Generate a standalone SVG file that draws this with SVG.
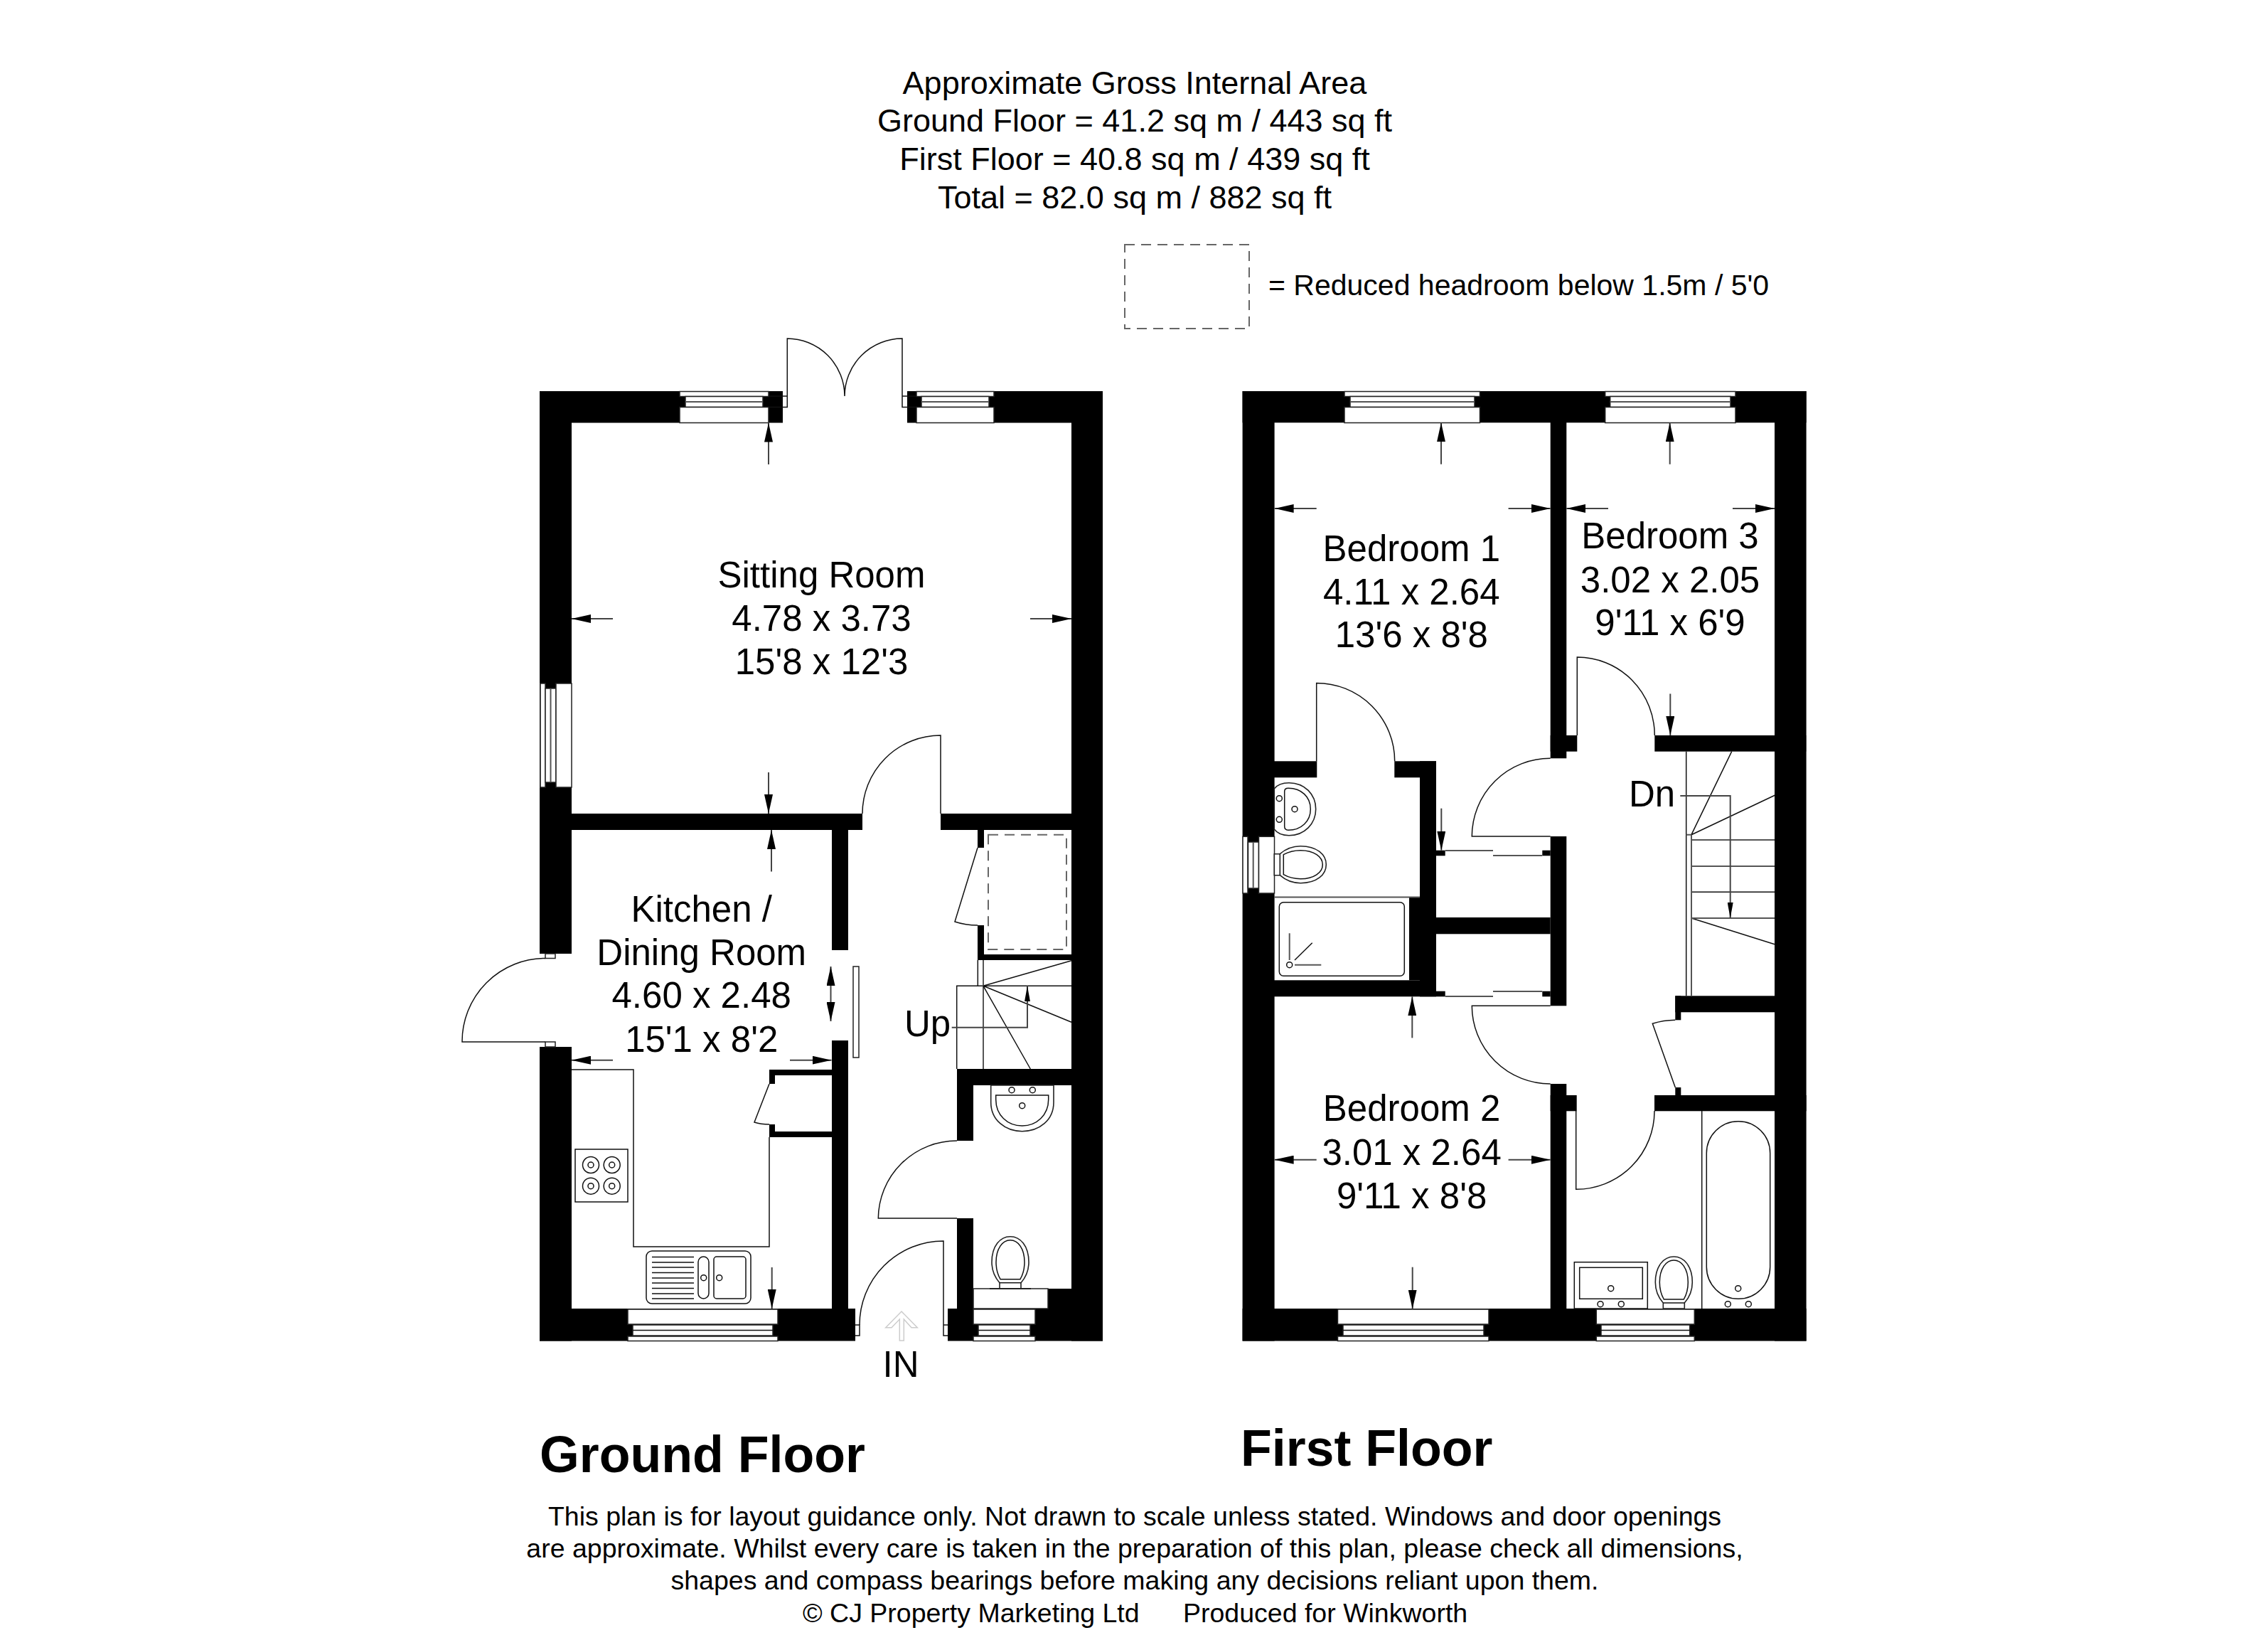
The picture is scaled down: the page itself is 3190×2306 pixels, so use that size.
<svg xmlns="http://www.w3.org/2000/svg" xmlns:xlink="http://www.w3.org/1999/xlink" width="3190" height="2306" viewBox="0 0 3190 2306">
<style>
text{font-family:"Liberation Sans",Arial,sans-serif;fill:#000}
.c{text-anchor:middle}
.room{font-size:51px}
.head{font-size:45px}
.leg{font-size:41px}
.foot{font-size:37.5px}
.title{font-size:71.7px;font-weight:bold}
.w{fill:#000}
.wn{fill:#fff;stroke:#222;stroke-width:1.5}
.l{fill:none;stroke:#111;stroke-width:1.5}
.g{fill:none;stroke:#555;stroke-width:2}
.a{stroke:#444;stroke-width:2;fill:none}
.dash{fill:none;stroke:#666;stroke-width:2;stroke-dasharray:14 9}
.fx{fill:#fff;stroke:#222;stroke-width:1.6}
</style>
<defs>
<marker id="ah" viewBox="0 0 27 12" refX="27" refY="6" markerWidth="27" markerHeight="12" markerUnits="userSpaceOnUse" orient="auto-start-reverse"><path d="M0,0L27,6L0,12Z" fill="#000"/></marker>
<marker id="sh" viewBox="0 0 22 8" refX="22" refY="4" markerWidth="22" markerHeight="8" markerUnits="userSpaceOnUse" orient="auto"><path d="M0,0L22,4L0,8Z" fill="#000"/></marker>
<g id="toilet">
<path class="fx" d="M-15,-8C-23,-17-26,-27-26,-37C-26,-60-14,-73,0,-73C14,-73,26,-60,26,-37C26,-27,23,-17,15,-8V0H-15Z"/>
<path class="l" d="M-15,-8H15"/>
<path class="l" d="M-14,-13C-18,-20-20,-29-20,-37C-20,-56-11,-68,0,-68C11,-68,20,-56,20,-37C20,-29,18,-20,14,-13Z"/>
</g>
</defs>
<rect width="3190" height="2306" fill="#fff"/>

<g id="heading">
<text class="head c" x="1596" y="132">Approximate Gross Internal Area</text>
<text class="head c" x="1596" y="185">Ground Floor = 41.2 sq m / 443 sq ft</text>
<text class="head c" x="1596" y="239">First Floor = 40.8 sq m / 439 sq ft</text>
<text class="head c" x="1596" y="293">Total = 82.0 sq m / 882 sq ft</text>
</g>
<g id="legend">
<rect class="dash" x="1582" y="344" width="175" height="118"/>
<text class="leg" x="1784" y="415">= Reduced headroom below 1.5m / 5'0</text>
</g>

<g id="ground-floor-walls" class="w">
<rect x="759" y="550" width="342" height="44.5"/>
<rect x="1276" y="550" width="275" height="44.5"/>
<rect x="759" y="550" width="45" height="791"/>
<rect x="759" y="1472" width="45" height="413.5"/>
<rect x="1507" y="550" width="44" height="1335.5"/>
<rect x="759" y="1144" width="454" height="23"/>
<rect x="1323" y="1144" width="228" height="23"/>
<rect x="1170" y="1167" width="23" height="169"/>
<rect x="1170" y="1463" width="23" height="377"/>
<rect x="1082" y="1504" width="88" height="8"/>
<rect x="1082" y="1504" width="8" height="20"/>
<rect x="1082" y="1581" width="8" height="18"/>
<rect x="1082" y="1591" width="88" height="8"/>
<rect x="759" y="1840" width="444" height="45.5"/>
<rect x="1333" y="1840" width="218" height="45.5"/>
<rect x="1346" y="1503" width="23" height="101"/>
<rect x="1346" y="1713" width="23" height="127"/>
<rect x="1346" y="1503" width="161" height="23"/>
<rect x="1375" y="1167" width="9" height="25"/>
<rect x="1375" y="1301" width="9" height="49"/>
<rect x="1375" y="1342" width="132" height="8"/>
<rect x="1474" y="1812" width="33" height="28"/>
</g>

<g id="ground-floor-windows">
<rect class="wn" x="956" y="550.5" width="125" height="7"/><rect class="wn" x="964" y="557.5" width="109" height="15"/><path class="g" d="M964,565H1073"/><rect class="wn" x="956" y="572.5" width="125" height="22"/>
<rect class="wn" x="1289" y="550.5" width="109" height="7"/><rect class="wn" x="1296" y="557.5" width="95" height="15"/><path class="g" d="M1296,565H1391"/><rect class="wn" x="1289" y="572.5" width="109" height="22"/>
<rect class="wn" x="760" y="961" width="7" height="146"/><rect class="wn" x="767" y="968" width="15" height="132"/><path class="g" d="M774.5,968V1100"/><rect class="wn" x="782" y="961" width="22" height="146"/>
<rect class="wn" x="883" y="1841" width="211" height="21"/><rect class="wn" x="890" y="1863" width="197" height="15"/><path class="l" d="M890,1870.5H1087"/><rect class="wn" x="883" y="1879" width="211" height="6.5"/>
<rect class="wn" x="1369" y="1812" width="105" height="28"/><rect class="wn" x="1369" y="1841" width="87" height="21"/><rect class="wn" x="1376" y="1863" width="73" height="15"/><path class="l" d="M1376,1870.5H1449"/><rect class="wn" x="1369" y="1879" width="87" height="6.5"/>
<path class="l" d="M1392,1812H1450" stroke-width="2"/>
</g>

<g id="ground-floor-doors">
<path class="l" d="M1081,557H1107.3V476A81,81 0 0 1 1188,557A81,81 0 0 1 1269,476V572.5H1289M1081,572.5H1107.3V557M1269,557H1289"/>
<path class="l" d="M1323,1144V1034A110,110 0 0 0 1213,1144"/>
<rect class="wn" x="767" y="1341" width="14" height="6.5"/><rect class="wn" x="767" y="1465" width="14" height="7"/>
<path class="l" d="M767,1347.5A117,117 0 0 0 650,1465H767"/>
<rect class="wn" x="1200" y="1359" width="8" height="128"/>
<path class="l" d="M1082,1524L1061,1578Q1070,1581 1082,1581"/>
<path class="l" d="M1375,1192L1343,1296Q1358,1301 1375,1301"/>
<path class="l" d="M1346,1604A110.5,110 0 0 0 1235.3,1713H1346"/>
<path class="l" d="M1203,1863H1209V1878H1203"/>
<path class="l" d="M1209,1863A118,118 0 0 1 1327,1745V1878H1333M1327,1863H1333"/>
<path d="M1268,1844L1290.3,1866.7H1282L1271.3,1855V1885H1265.3V1855L1254,1866.7H1245.7Z" fill="#fff" stroke="#ccc" stroke-width="1.5"/>
</g>

<g id="ground-floor-fittings">
<path class="l" d="M804,1504H891V1753H1082V1599"/>
<rect class="l" x="809" y="1616" width="74" height="74"/>
<g class="l">
<circle cx="831" cy="1638" r="11.5"/><circle cx="831" cy="1638" r="4"/>
<circle cx="860.7" cy="1638" r="11.5"/><circle cx="860.7" cy="1638" r="4"/>
<circle cx="831" cy="1667.7" r="11.5"/><circle cx="831" cy="1667.7" r="4"/>
<circle cx="860.7" cy="1667.7" r="11.5"/><circle cx="860.7" cy="1667.7" r="4"/>
<rect x="909" y="1759" width="147" height="74" rx="8"/>
<path d="M917,1767.5H976M917,1775H976M917,1782H976M917,1789.5H976M917,1797H976M917,1804H976M917,1811.5H976M917,1819H976M917,1826H976"/>
<rect x="982" y="1767" width="15" height="59" rx="7.5"/><circle cx="989.7" cy="1796.7" r="4"/>
<rect x="1004" y="1767" width="45" height="59" rx="4"/><circle cx="1011.7" cy="1796.7" r="4"/>
</g>
<path class="fx" d="M1393.7,1526V1550C1393.7,1575 1414,1590.7 1437.7,1590.7C1462,1590.7 1482,1575 1482,1550V1526Z"/>
<path class="l" d="M1400.7,1540H1474.7V1546C1474.7,1568 1458,1583 1437.7,1583C1417,1583 1400.7,1568 1400.7,1546Z"/>
<g class="l"><circle cx="1423" cy="1532.7" r="4"/><circle cx="1452.3" cy="1532.7" r="4"/><circle cx="1437.7" cy="1554.7" r="4"/></g>
<use xlink:href="#toilet" href="#toilet" transform="translate(1421,1811.7)"/>
</g>

<g id="ground-floor-stairs">
<rect class="dash" x="1390" y="1173.7" width="110" height="161.3"/>
<path class="l" d="M1375.3,1350V1386.3M1345.7,1503V1386.3H1507"/>
<path class="g" d="M1383,1350V1503"/>
<path class="l" d="M1383,1386.3L1507,1350.7M1383,1386.3L1507,1437.3M1383,1386.3L1449.3,1503"/>
<path class="a" d="M1338.7,1444.7H1445V1386.3" marker-end="url(#sh)"/>
</g>

<g id="first-floor-walls" class="w">
<rect x="1747.6" y="550" width="793" height="44.3"/>
<rect x="1747.6" y="550" width="45" height="1335.5"/>
<rect x="2496" y="550" width="44.6" height="1335.5"/>
<rect x="1747.6" y="1840" width="793" height="45.5"/>
<rect x="2180.7" y="594" width="22.6" height="472.3"/>
<rect x="2180.7" y="1034" width="37.6" height="22.7"/>
<rect x="2327.3" y="1034" width="213" height="22.7"/>
<rect x="1792" y="1070.3" width="60.3" height="23"/>
<rect x="1961.3" y="1070.3" width="58.7" height="23"/>
<rect x="1997" y="1070.3" width="23" height="331"/>
<rect x="1982" y="1261" width="15" height="117.3"/>
<rect x="1792" y="1378.3" width="228" height="23"/>
<rect x="2020" y="1195.7" width="12.7" height="7.6"/>
<rect x="2169.3" y="1195.7" width="11.4" height="7.6"/>
<rect x="2020" y="1290" width="160.7" height="23.3"/>
<rect x="2020" y="1393.7" width="12.7" height="7.6"/>
<rect x="2169.3" y="1393.7" width="11.4" height="7.6"/>
<rect x="2180.7" y="1176" width="22.6" height="238.3"/>
<rect x="2180.7" y="1524" width="22.6" height="316"/>
<rect x="2180.7" y="1540" width="37" height="22.3"/>
<rect x="2327" y="1540" width="213.6" height="22.3"/>
<rect x="2356.3" y="1400.3" width="139.7" height="23"/>
<rect x="2356.3" y="1400.3" width="8" height="34"/>
<rect x="2356.3" y="1529" width="8" height="11"/>
</g>

<g id="first-floor-windows">
<rect class="wn" x="1891" y="550.5" width="190.5" height="7"/><rect class="wn" x="1899" y="557.5" width="175" height="15"/><path class="g" d="M1899,565H2074"/><rect class="wn" x="1891" y="572.5" width="190.5" height="22"/>
<rect class="wn" x="2257.7" y="550.5" width="183.3" height="7"/><rect class="wn" x="2264.7" y="557.5" width="169.3" height="15"/><path class="g" d="M2264.7,565H2434"/><rect class="wn" x="2257.7" y="572.5" width="183.3" height="22"/>
<rect class="wn" x="1748" y="1176.3" width="7" height="79.7"/><rect class="wn" x="1755.5" y="1184" width="15" height="65"/><path class="g" d="M1762.7,1184V1249"/><rect class="wn" x="1770.5" y="1176.3" width="22" height="79.7"/>
<rect class="wn" x="1881.5" y="1841" width="212.5" height="21"/><rect class="wn" x="1889" y="1863" width="198" height="15"/><path class="l" d="M1889,1870.5H2087"/><rect class="wn" x="1881.5" y="1879" width="212.5" height="6.5"/>
<rect class="wn" x="2245.3" y="1841" width="138" height="21"/><rect class="wn" x="2252" y="1863" width="124.7" height="15"/><path class="l" d="M2252,1870.5H2376.7"/><rect class="wn" x="2245.3" y="1879" width="138" height="6.5"/>
</g>

<g id="first-floor-doors">
<path class="l" d="M1851.7,1070.6V960.4A110,110 0 0 1 1961.7,1070.6"/>
<path class="l" d="M2218.3,1034V924A109,110 0 0 1 2327.3,1034"/>
<path class="l" d="M2180.7,1066.3A110,110 0 0 0 2070.3,1176H2180.7"/>
<path class="l" d="M2180.7,1414.3H2070.3A110,110 0 0 0 2180.7,1524"/>
<path class="l" d="M2216.7,1562V1672.3A110,110 0 0 0 2327,1562"/>
<path class="l" d="M2356.3,1529L2324.3,1439.3Q2340,1434.5 2356.3,1434.3"/>
<path class="g" d="M2032.7,1196H2100M2100,1203H2169.3M2032.7,1401H2100M2100,1394H2169.3"/>
</g>

<g id="first-floor-fittings">
<path class="fx" d="M1792.3,1109C1796,1104 1803,1100.7 1813,1100.7C1835,1100.7 1850.7,1117 1850.7,1137.7C1850.7,1158 1835,1174.7 1813,1174.7C1803,1174.7 1796,1171 1792.3,1166Z"/>
<path class="l" d="M1806.7,1113Q1806.7,1108.3 1812,1108.3C1830,1108.3 1843.3,1120 1843.3,1137.7C1843.3,1155 1830,1167.3 1812,1167.3Q1806.7,1167 1806.7,1162Z"/>
<g class="l"><circle cx="1799.3" cy="1122.7" r="4"/><circle cx="1799.3" cy="1152.3" r="4"/><circle cx="1821" cy="1137.7" r="4"/></g>
<use xlink:href="#toilet" href="#toilet" transform="translate(1792.3,1215.7) rotate(90)"/>
<path class="g" d="M1792,1261.5H1997"/>
<rect class="l" x="1799.3" y="1268.7" width="176" height="103.6" rx="6"/>
<circle class="l" cx="1813.7" cy="1356.7" r="4"/>
<path class="g" d="M1813.7,1312.3V1350M1821,1356.7H1858.3"/>
<path class="l" d="M1821,1350L1845.7,1325.7"/>
<path class="l" d="M2393.7,1562V1840"/>
<rect class="l" x="2400.3" y="1576.7" width="89.4" height="249.6" rx="44.7"/>
<g class="l"><circle cx="2444.7" cy="1811.7" r="4"/><circle cx="2430.3" cy="1833.7" r="4"/><circle cx="2459.3" cy="1833.7" r="4"/>
<rect x="2214.3" y="1774.7" width="103" height="65.3"/><rect x="2221.7" y="1782.3" width="88.6" height="44"/>
<circle cx="2265.7" cy="1811.7" r="4"/><circle cx="2251" cy="1833.7" r="4"/><circle cx="2280.3" cy="1833.7" r="4"/></g>
<use xlink:href="#toilet" href="#toilet" transform="translate(2354.3,1840)"/>
</g>

<g id="first-floor-stairs">
<path class="l" d="M2371.7,1056.7V1400.3M2379,1291L2496,1327.7M2379,1173.7L2435.7,1056.7M2379,1173.7L2496.3,1118.3M2379,1254.3H2496"/>
<path class="g" d="M2379,1173.7V1400.3M2371.7,1173.7H2379M2379,1181H2496M2379,1218H2496M2379,1291H2496"/>
<path class="a" d="M2363.3,1119H2433.7V1291" marker-end="url(#sh)"/>
</g>

<g id="dimension-arrows">
<g class="a">
<path marker-end="url(#ah)" d="M1081,653V594.5"/><path marker-end="url(#ah)" d="M862,870H804"/><path marker-end="url(#ah)" d="M1449,870H1507"/><path marker-end="url(#ah)" d="M1081,1086V1144"/>
<path marker-end="url(#ah)" d="M1085,1225.5V1167"/>
<path marker-start="url(#ah)" marker-end="url(#ah)" d="M1168.5,1359V1436"/>
<path marker-end="url(#ah)" d="M862,1490.7H804"/><path marker-end="url(#ah)" d="M1111,1490.7H1169.5"/>
<path marker-end="url(#ah)" d="M1085.7,1782V1840"/>
<path marker-end="url(#ah)" d="M2027,652.8V594.3"/><path marker-end="url(#ah)" d="M2348.7,652.8V594.3"/>
<path marker-end="url(#ah)" d="M1851.7,715H1792.6"/><path marker-end="url(#ah)" d="M2121.6,715H2180.7"/>
<path marker-end="url(#ah)" d="M2262,715H2203.3"/><path marker-end="url(#ah)" d="M2437,715H2496"/>
<path marker-end="url(#ah)" d="M2349.3,975.5V1034"/>
<path marker-end="url(#ah)" d="M2027.3,1136.7V1195.7"/>
<path marker-end="url(#ah)" d="M1986.3,1459.4V1401.3"/>
<path marker-end="url(#ah)" d="M1851.7,1630.7H1792.6"/><path marker-end="url(#ah)" d="M2121.6,1630.7H2180.7"/>
<path marker-end="url(#ah)" d="M1986.7,1781.7V1840.5"/>
</g>
</g>

<g id="room-labels">
<g id="sitting-room"><text class="room c" x="1155.5" y="826">Sitting Room</text><text class="room c" x="1155.5" y="887">4.78 x 3.73</text><text class="room c" x="1155.5" y="948">15'8 x 12'3</text></g>
<g id="kitchen"><text class="room c" x="986.7" y="1296">Kitchen /</text><text class="room c" x="986.7" y="1356.6">Dining Room</text><text class="room c" x="986.7" y="1417">4.60 x 2.48</text><text class="room c" x="986.7" y="1479">15'1 x 8'2</text></g>
<g id="bedroom-1"><text class="room c" x="1985.3" y="789">Bedroom 1</text><text class="room c" x="1985.3" y="849.6">4.11 x 2.64</text><text class="room c" x="1985.3" y="910">13'6 x 8'8</text></g>
<g id="bedroom-3"><text class="room c" x="2349" y="771">Bedroom 3</text><text class="room c" x="2349" y="832.7">3.02 x 2.05</text><text class="room c" x="2349" y="892.5">9'11 x 6'9</text></g>
<g id="bedroom-2"><text class="room c" x="1985.6" y="1576">Bedroom 2</text><text class="room c" x="1985.6" y="1638">3.01 x 2.64</text><text class="room c" x="1985.6" y="1699">9'11 x 8'8</text></g>
<text class="room" x="1272" y="1456.7">Up</text>
<text class="room" x="2291" y="1134">Dn</text>
<text class="room c" x="1267" y="1936">IN</text>
</g>

<g id="floor-titles">
<text class="title" x="759" y="2070">Ground Floor</text>
<text class="title" x="1745" y="2061">First Floor</text>
</g>
<g id="footer">
<text class="foot c" x="1596" y="2145">This plan is for layout guidance only. Not drawn to scale unless stated. Windows and door openings</text>
<text class="foot c" x="1596" y="2190">are approximate. Whilst every care is taken in the preparation of this plan, please check all dimensions,</text>
<text class="foot c" x="1596" y="2235">shapes and compass bearings before making any decisions reliant upon them.</text>
<text class="foot" x="1129" y="2281">© CJ Property Marketing Ltd</text>
<text class="foot" x="1664" y="2281">Produced for Winkworth</text>
</g>
</svg>
